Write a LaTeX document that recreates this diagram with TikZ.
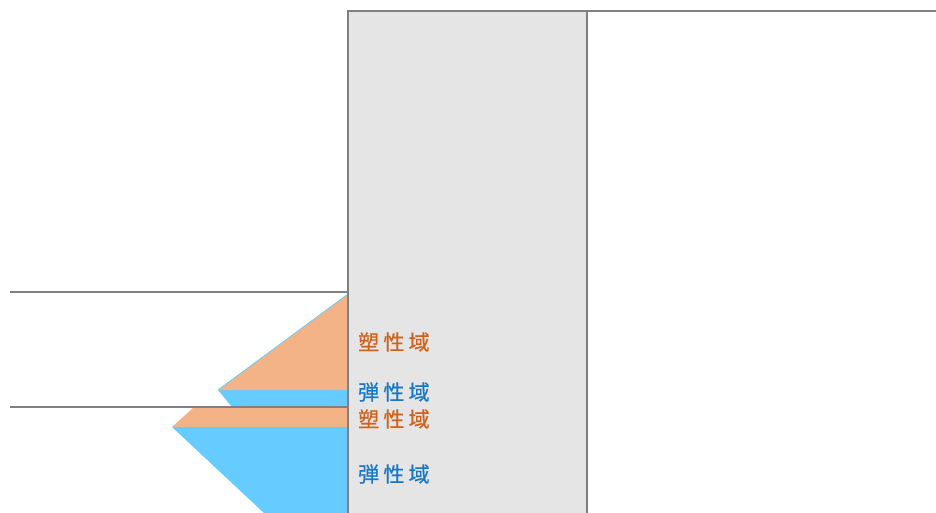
\documentclass[tikz,border=0pt]{standalone}
\usepackage{fontspec}
\newfontfamily\jpfont[LetterSpace=20,FakeBold=0.6]{Noto Sans CJK JP}
\definecolor{wallfill}{HTML}{E5E5E5}
\definecolor{lineg}{HTML}{808080}
\definecolor{plast}{HTML}{F3B386}
\definecolor{elast}{HTML}{66CCFF}
\definecolor{ptext}{HTML}{D0621C}
\definecolor{etext}{HTML}{1878C8}
\tikzset{
  gline/.style={draw=lineg, line width=2.6pt},
  lbl/.style={anchor=west, inner sep=0pt, font=\jpfont\fontsize{21}{21}\selectfont},
}
\begin{document}
\begin{tikzpicture}[x=1pt,y=-1pt]
\useasboundingbox (0,0) rectangle (936,512);
% wall
\fill[wallfill] (348,11) rectangle (587,514);
% upper zone
\fill[elast] (218,390) -- (348,390) -- (348,407) -- (232,407) -- cycle;
\fill[plast] (348,294) -- (218,390) -- (348,390) -- cycle;
\draw[elast, line width=0.8pt] (348,294) -- (218,390);
% lower zone
\fill[plast] (193,408) -- (348,408) -- (348,427) -- (172,427) -- cycle;
\fill[elast] (172,427) -- (348,427) -- (348,514) -- (265,514) -- cycle;
% lines
\draw[gline] (348,514) -- (348,11) -- (587,11) -- (587,514);
\draw[gline] (587,11) -- (936,11);
\draw[gline] (10,292) -- (348,292);
\draw[gline] (10,407) -- (348,407);
% labels
\node[lbl, text=ptext] (p1) at (358,342) {塑性域};
\node[lbl, text=etext] (e1) at (358,392) {弾性域};
\node[lbl, text=ptext] (p2) at (358,419) {塑性域};
\node[lbl, text=etext] (e2) at (358,474) {弾性域};
\end{tikzpicture}
\end{document}
